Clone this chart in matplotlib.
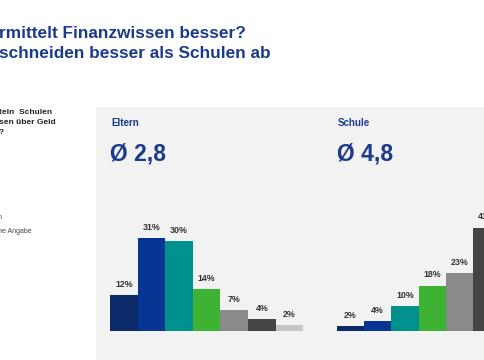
import matplotlib
matplotlib.use("Agg")
import matplotlib.pyplot as plt
from matplotlib.patches import Rectangle

plt.rcParams['font.family'] = ['Liberation Sans', 'DejaVu Sans']

# ---- data ----
title_lines = ["rmittelt Finanzwissen besser?", "schneiden besser als Schulen ab"]
side_lines = ["teln  Schulen", "sen über Geld", "?"]
legend_frag = ["n", "ne Angabe"]
eltern_label = "Eltern"
eltern_avg = "Ø 2,8"
eltern_values = [12, 31, 30, 14, 7, 4, 2]
schule_label = "Schule"
schule_avg = "Ø 4,8"
schule_values = [2, 4, 10, 18, 23, 41]
bar_colors = ["#0b2a6b", "#063594", "#00918f", "#3db233", "#8a8a8a", "#444444", "#c6c6c6"]

W, H = 485, 360
fig = plt.figure(figsize=(W / 100, H / 100), dpi=100)
fig.patch.set_facecolor("white")

def fx(px):
    return px / W

def fy(py):
    return 1 - py / H

title_color = "#1b3a8c"

# gray panel
fig.patches.append(Rectangle((fx(96), 0), 1 - fx(96), fy(107), transform=fig.transFigure,
                             facecolor="#f2f2f2", edgecolor="none", zorder=-5))

# title
fig.text(fx(-1), fy(33), title_lines[0], fontsize=12.4, fontweight="bold", color=title_color,
         va="center", ha="left")
fig.text(fx(-1), fy(53), title_lines[1], fontsize=12.4, fontweight="bold", color=title_color,
         va="center", ha="left")

# side text
for i, s in enumerate(side_lines):
    fig.text(fx(-1), fy(113 + 9.5 * i), s, fontsize=6.0, fontweight="bold", color="#222222",
             va="center", ha="left")
fig.text(fx(-2), fy(218), legend_frag[0], fontsize=5, color="#444444", va="center", ha="left")
fig.text(fx(-2), fy(231), legend_frag[1], fontsize=5, color="#444444", va="center", ha="left")

def panel(x0, label, avg, values, bw, pxper, ytop_lim):
    fig.text(fx(x0 + 1), fy(123), label, fontsize=7, fontweight="bold", color=title_color,
             va="center", ha="left")
    fig.text(fx(x0), fy(154), avg, fontsize=16.5, fontweight="bold", color=title_color,
             va="center", ha="left")
    n = len(values)
    base = 331
    hpx = ytop_lim * pxper
    ax = fig.add_axes([fx(x0), fy(base), n * bw / W, hpx / H], zorder=2)
    ax.set_facecolor("none")
    ax.bar(range(n), values, width=1.0, color=bar_colors[:n], edgecolor="none")
    ax.set_xlim(-0.5, n - 0.5)
    ax.set_ylim(0, ytop_lim)
    ax.axis("off")
    for i, v in enumerate(values):
        ax.annotate(f"{v}%", (i, v), xytext=(0, 4.5), textcoords="offset points",
                    ha="center", va="bottom", fontsize=6.4, fontweight="bold", color="#333333",
                    annotation_clip=False)
    return ax

panel(110, eltern_label, eltern_avg, eltern_values, 27.6, 3.0, 40)
panel(336.7, schule_label, schule_avg, schule_values, 27.3, 2.52, 48)

fig.savefig("out.png", dpi=100)
